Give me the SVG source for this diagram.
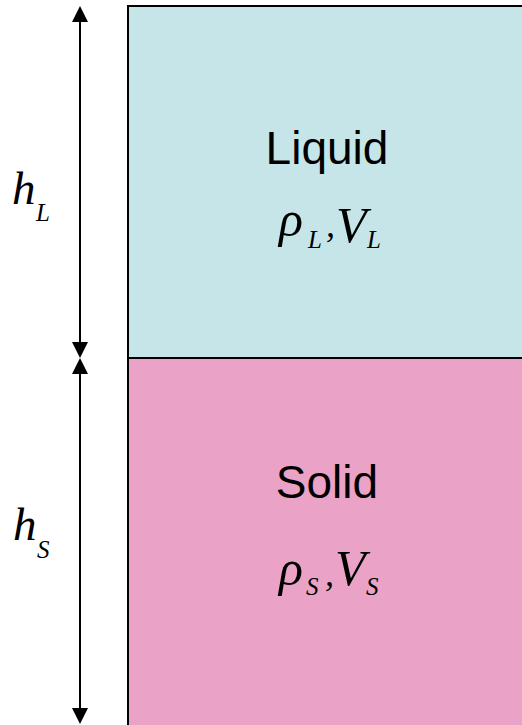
<svg xmlns="http://www.w3.org/2000/svg" width="522" height="725" viewBox="0 0 522 725">
<style>
.box{stroke:#000;stroke-width:2}
.title{font-family:"Liberation Sans",Arial,sans-serif;font-size:46px;fill:#000;text-anchor:middle}
.m{font-family:"Liberation Serif","Times New Roman",serif;font-style:italic;fill:#000}
.big{font-size:50px}
.hb{font-size:47px}
.sub{font-size:25px}
.cm{font-size:36px}
.dim{stroke:#000;stroke-width:2;fill:none}
</style>
<defs>
<marker id="ah" markerUnits="userSpaceOnUse" markerWidth="16" markerHeight="16" refX="8" refY="8" orient="auto-start-reverse" viewBox="0 0 16 16">
<path d="M0,0 L16,8 L0,16 z" fill="#000"/>
</marker>
</defs>
<rect x="0" y="0" width="522" height="725" fill="#fff"/>
<g id="liquid">
<rect class="box" x="128" y="6" width="400" height="352" fill="#C5E5E8"/>
<text class="title" x="327" y="164">Liquid</text>
<text class="m"><tspan class="big" x="279" y="236">ρ</tspan><tspan class="sub" x="308" y="248">L</tspan><tspan class="cm" x="326" y="237">,</tspan><tspan class="big" x="336" y="242">V</tspan><tspan class="sub" x="367" y="248">L</tspan></text>
</g>
<g id="solid">
<rect class="box" x="128" y="358" width="400" height="380" fill="#EAA2C6"/>
<text class="title" x="327" y="498">Solid</text>
<text class="m"><tspan class="big" x="279" y="585">ρ</tspan><tspan class="sub" x="306" y="595">S</tspan><tspan class="cm" x="325" y="586">,</tspan><tspan class="big" x="335" y="585">V</tspan><tspan class="sub" x="366" y="595">S</tspan></text>
</g>
<g id="connectors">
<line class="dim" x1="80" y1="14" x2="80" y2="350" marker-start="url(#ah)" marker-end="url(#ah)"/>
<line class="dim" x1="80" y1="366" x2="80" y2="716" marker-start="url(#ah)" marker-end="url(#ah)"/>
</g>
<g id="label-hL">
<text class="m"><tspan class="hb" x="12" y="204">h</tspan><tspan class="sub" x="36" y="221">L</tspan></text>
</g>
<g id="label-hS">
<text class="m"><tspan class="hb" x="13" y="540">h</tspan><tspan class="sub" x="37" y="558">S</tspan></text>
</g>
</svg>
